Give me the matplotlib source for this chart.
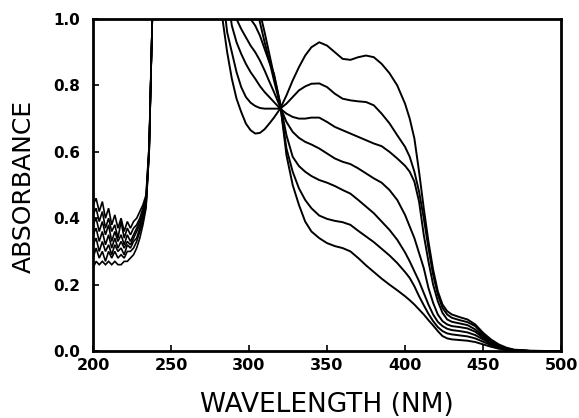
import numpy as np
import matplotlib
matplotlib.use("Agg")
import matplotlib.pyplot as plt

# UV part (200-240 nm), noisy region below the cut-off
wl_uv = [200, 202, 204, 206, 208, 210, 212, 214, 216, 218, 220, 222, 224,
         226, 228, 230, 232, 234, 236, 238, 240]
uv_1 = [0.44, 0.46, 0.42, 0.45, 0.40, 0.43, 0.38, 0.41, 0.37, 0.40, 0.36,
        0.39, 0.37, 0.39, 0.40, 0.42, 0.44, 0.47, 0.62, 1.0, 1.4]
uv_2 = [0.41, 0.43, 0.39, 0.42, 0.37, 0.40, 0.36, 0.38, 0.34, 0.39, 0.34,
        0.37, 0.35, 0.37, 0.38, 0.40, 0.43, 0.46, 0.62, 1.0, 1.4]
uv_3 = [0.38, 0.40, 0.36, 0.39, 0.35, 0.38, 0.33, 0.36, 0.33, 0.35, 0.32,
        0.35, 0.33, 0.35, 0.37, 0.39, 0.42, 0.45, 0.61, 1.0, 1.4]
uv_4 = [0.35, 0.37, 0.33, 0.36, 0.32, 0.35, 0.31, 0.34, 0.31, 0.33, 0.31,
        0.33, 0.32, 0.34, 0.36, 0.38, 0.41, 0.45, 0.61, 1.0, 1.4]
uv_5 = [0.32, 0.34, 0.30, 0.33, 0.30, 0.32, 0.29, 0.32, 0.30, 0.31, 0.29,
        0.32, 0.31, 0.33, 0.34, 0.37, 0.40, 0.44, 0.60, 1.0, 1.4]
uv_6 = [0.28, 0.31, 0.28, 0.30, 0.27, 0.30, 0.28, 0.30, 0.28, 0.29, 0.28,
        0.30, 0.30, 0.31, 0.33, 0.36, 0.39, 0.44, 0.60, 1.0, 1.4]
uv_7 = [0.25, 0.27, 0.26, 0.27, 0.26, 0.27, 0.26, 0.27, 0.26, 0.26, 0.27,
        0.27, 0.28, 0.29, 0.31, 0.34, 0.38, 0.43, 0.60, 1.0, 1.4]

# visible part (280-500 nm)
wl_vis = [280, 283, 286, 289, 292, 295, 298, 301, 304, 307, 310, 313, 316,
          320, 324, 328, 332, 336, 340, 345, 350, 355, 360, 365, 370, 375,
          380, 385, 390, 395, 400, 403, 406, 409, 412, 415, 418, 421, 424,
          427, 430, 435, 440, 445, 450, 455, 460, 465, 470, 480, 490, 500]
vis_1 = [1.15, 1.0, 0.90, 0.82, 0.76, 0.72, 0.685, 0.665, 0.655, 0.657,
         0.668, 0.685, 0.703, 0.73, 0.77, 0.815, 0.855, 0.89, 0.915, 0.93,
         0.92, 0.90, 0.88, 0.877, 0.885, 0.89, 0.885, 0.865, 0.837, 0.80,
         0.745, 0.70, 0.64, 0.54, 0.43, 0.33, 0.245, 0.18, 0.14, 0.12, 0.11,
         0.102, 0.095, 0.08, 0.055, 0.035, 0.02, 0.01, 0.004, 0.001, 0.0, 0.0]
vis_2 = [1.2, 1.08, 0.96, 0.90, 0.84, 0.795, 0.765, 0.748, 0.738, 0.732,
         0.73, 0.73, 0.73, 0.73, 0.745, 0.765, 0.785, 0.797, 0.805, 0.806,
         0.795, 0.775, 0.76, 0.755, 0.752, 0.75, 0.74, 0.715, 0.686, 0.65,
         0.615, 0.585, 0.54, 0.48, 0.40, 0.31, 0.23, 0.17, 0.13, 0.11, 0.10,
         0.093, 0.087, 0.075, 0.05, 0.03, 0.017, 0.008, 0.003, 0.0, 0.0, 0.0]
vis_3 = [1.3, 1.2, 1.08, 0.98, 0.93, 0.895, 0.865, 0.84, 0.82, 0.798, 0.78,
         0.765, 0.75, 0.73, 0.715, 0.705, 0.70, 0.70, 0.703, 0.703, 0.69,
         0.675, 0.665, 0.655, 0.645, 0.635, 0.625, 0.617, 0.60, 0.58, 0.558,
         0.54, 0.51, 0.45, 0.35, 0.27, 0.20, 0.15, 0.115, 0.095, 0.088,
         0.083, 0.078, 0.065, 0.045, 0.028, 0.015, 0.007, 0.002, 0.0, 0.0, 0.0]
vis_4 = [1.4, 1.3, 1.2, 1.1, 1.0, 0.97, 0.945, 0.92, 0.90, 0.875, 0.845,
         0.812, 0.78, 0.735, 0.69, 0.66, 0.642, 0.63, 0.622, 0.61, 0.595,
         0.58, 0.57, 0.563, 0.55, 0.535, 0.52, 0.507, 0.485, 0.455, 0.41,
         0.375, 0.34, 0.295, 0.25, 0.19, 0.145, 0.11, 0.09, 0.08, 0.075,
         0.072, 0.068, 0.058, 0.04, 0.025, 0.013, 0.006, 0.002, 0.0, 0.0, 0.0]
vis_5 = [1.5, 1.4, 1.3, 1.2, 1.12, 1.07, 1.03, 1.0, 0.98, 0.95, 0.91, 0.87,
         0.835, 0.745, 0.65, 0.585, 0.557, 0.54, 0.527, 0.515, 0.507, 0.497,
         0.485, 0.474, 0.455, 0.435, 0.415, 0.39, 0.365, 0.335, 0.297, 0.27,
         0.24, 0.21, 0.175, 0.14, 0.11, 0.088, 0.075, 0.067, 0.063, 0.06,
         0.056, 0.048, 0.035, 0.022, 0.012, 0.005, 0.002, 0.0, 0.0, 0.0]
vis_6 = [1.6, 1.5, 1.4, 1.3, 1.25, 1.2, 1.15, 1.1, 1.05, 0.99, 0.93, 0.875,
         0.815, 0.74, 0.61, 0.54, 0.49, 0.455, 0.43, 0.408, 0.398, 0.392,
         0.388, 0.38, 0.362, 0.345, 0.328, 0.308, 0.288, 0.265, 0.238, 0.22,
         0.195, 0.165, 0.138, 0.112, 0.09, 0.072, 0.06, 0.053, 0.05, 0.047,
         0.044, 0.038, 0.028, 0.018, 0.01, 0.004, 0.001, 0.0, 0.0, 0.0]
vis_7 = [1.7, 1.6, 1.5, 1.4, 1.3, 1.25, 1.2, 1.14, 1.08, 1.02, 0.96, 0.895,
         0.83, 0.745, 0.59, 0.50, 0.44, 0.39, 0.36, 0.34, 0.325, 0.316, 0.31,
         0.30, 0.28, 0.258, 0.238, 0.218, 0.20, 0.183, 0.165, 0.153, 0.14,
         0.125, 0.11, 0.093, 0.077, 0.06, 0.045, 0.038, 0.035, 0.033, 0.031,
         0.027, 0.02, 0.013, 0.007, 0.003, 0.001, 0.0, 0.0, 0.0]

uv_list = [uv_1, uv_2, uv_3, uv_4, uv_5, uv_6, uv_7]
vis_list = [vis_1, vis_2, vis_3, vis_4, vis_5, vis_6, vis_7]

x_ticks = [200, 250, 300, 350, 400, 450, 500]
y_ticks = [0.0, 0.2, 0.4, 0.6, 0.8, 1.0]


def draw(ax):
    for a in uv_list:
        ax.plot(wl_uv, a, color="black", lw=1.2, solid_joinstyle="miter")
    for a in vis_list:
        ax.plot(wl_vis, a, color="black", lw=1.4, solid_joinstyle="round")

    ax.set_xlim(200, 500)
    ax.set_ylim(0.0, 1.0)
    ax.set_xticks(x_ticks)
    ax.set_yticks(y_ticks)
    ax.set_yticklabels(["%.1f" % v for v in y_ticks])
    ax.tick_params(direction="in", length=4, width=1.2)
    ax.tick_params(axis="x", pad=5, labelsize=11.5)
    ax.tick_params(axis="y", pad=9, labelsize=11)
    for lab in ax.get_xticklabels() + ax.get_yticklabels():
        lab.set_fontweight("bold")
    for sp in ax.spines.values():
        sp.set_linewidth(2.0)

    ax.set_xlabel("WAVELENGTH (NM)", fontsize=19)
    ax.set_ylabel("ABSORBANCE", fontsize=18)
    ax.xaxis.set_label_coords(0.5, -0.125)
    ax.yaxis.set_label_coords(-0.122, 0.495)


if __name__ == "__main__":
    fig = plt.figure(figsize=(5.79, 4.18), dpi=100)
    ax = fig.add_axes([0.1606, 0.1603, 0.8084, 0.7942])
    draw(ax)
    fig.savefig("out.png", dpi=100)
